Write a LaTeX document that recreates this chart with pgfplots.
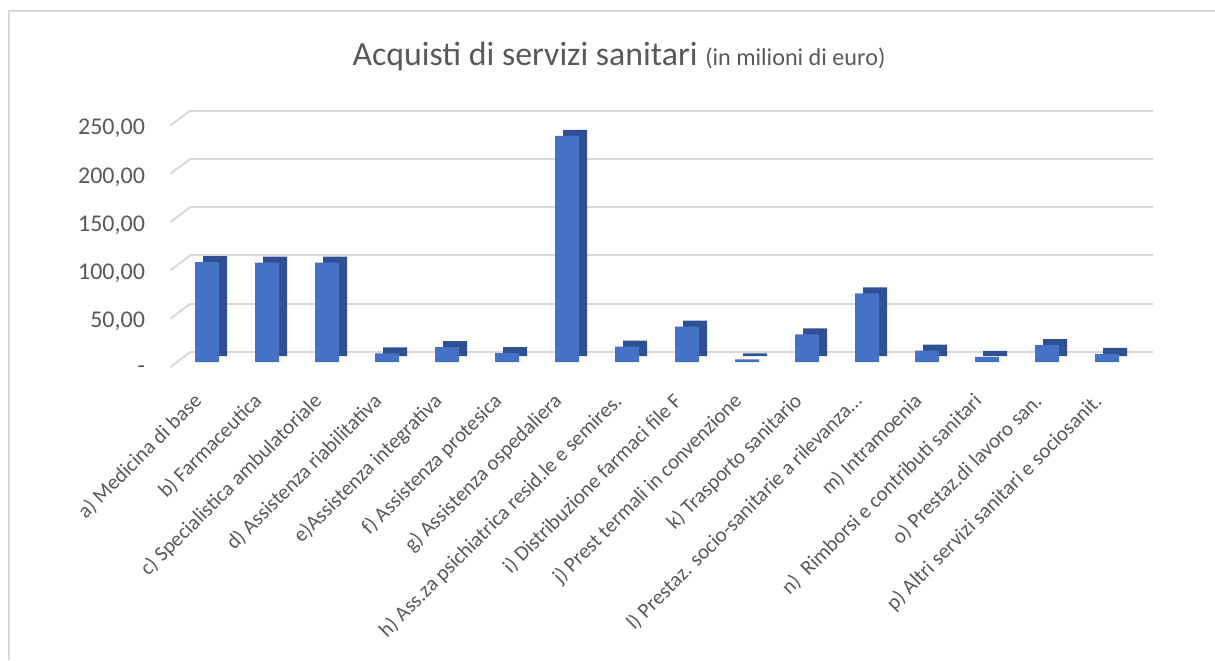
\documentclass[border=0pt]{standalone}
\usepackage{pgfplots}
\pgfplotsset{compat=1.18}
\usepackage{pgfplotstable}
\usepackage{fontspec}
\setmainfont{Carlito}

\definecolor{barfront}{HTML}{4472C4}
\definecolor{barside}{HTML}{2F5193}
\definecolor{txt}{HTML}{595959}
\definecolor{gridc}{HTML}{D9D9D9}

% acquisti di servizi sanitari, milioni di euro
\pgfplotstableread{
x val
0 103.5
1 103
2 103
3 9
4 15.5
5 9.3
6 234
7 16
8 36.5
9 2.7
10 28.6
11 71
12 11.7
13 5.2
14 17.6
15 8.3
}\spesa

\begin{document}
\begin{tikzpicture}
\useasboundingbox (0,0) rectangle (607.5pt,330pt);
\draw[gridc, line width=1pt] (4.5pt,0) -- (4.5pt,324.5pt) -- (607.5pt,324.5pt);
\node[txt] at (309.5pt,302pt) {\fontsize{16.9}{20}\selectfont Acquisti di servizi sanitari \fontsize{12.1}{14}\selectfont(in milioni di euro)};
\begin{axis}[
    at={(88.5pt,149pt)}, anchor=south west,
    scale only axis,
    width=481.5pt, height=120.75pt,
    xmin=-0.5, xmax=15.55,
    ymin=0, ymax=250,
    clip=false,
    axis line style={draw=none},
    major tick length=0pt,
    ymajorgrids=true,
    major grid style={gridc, line width=1pt, xshift=6.67pt, yshift=5pt},
    ytick={0,50,...,250},
    yticklabels={{-\hspace{7pt}},{50,00},{100,00},{150,00},{200,00},{250,00}},
    yticklabel style={font=\fontsize{12}{14}\selectfont, text=txt, anchor=east, xshift=-12.5pt, yshift=-4pt},
    xtick={0,...,15},
    xticklabels={
        a) Medicina di base,
        b) Farmaceutica,
        c) Specialistica ambulatoriale,
        d) Assistenza riabilitativa,
        e)Assistenza integrativa,
        f) Assistenza protesica,
        g) Assistenza ospedaliera,
        h) Ass.za psichiatrica resid.le e semires.,
        i) Distribuzione farmaci file F,
        j) Prest termali in convenzione,
        k) Trasporto sanitario,
        l) Prestaz. socio-sanitarie a rilevanza…,
        m) Intramoenia,
        n)\ \ Rimborsi e contributi sanitari,
        o) Prestaz.di lavoro san.,
        p) Altri servizi sanitari e sociosanit.
    },
    xticklabel style={font=\fontsize{10.5}{12}\selectfont, text=txt, inner sep=0pt,
        xshift=-7.5pt, yshift=-14.5pt, rotate=45, anchor=north east},
]
\pgfplotsinvokeforeach{0,50,...,250}{
    \draw[gridc, line width=1pt] ([xshift=-3.33pt,yshift=-2.5pt]axis cs:-0.5,#1) -- ++(10pt,7.5pt);
}
\addplot[ybar, bar width=12pt, fill=barside, draw=none, xshift=4pt, yshift=3pt] table[x=x, y=val] {\spesa};
\addplot[ybar, bar width=12pt, fill=barfront, draw=none] table[x=x, y=val] {\spesa};
\end{axis}
\end{tikzpicture}
\end{document}
